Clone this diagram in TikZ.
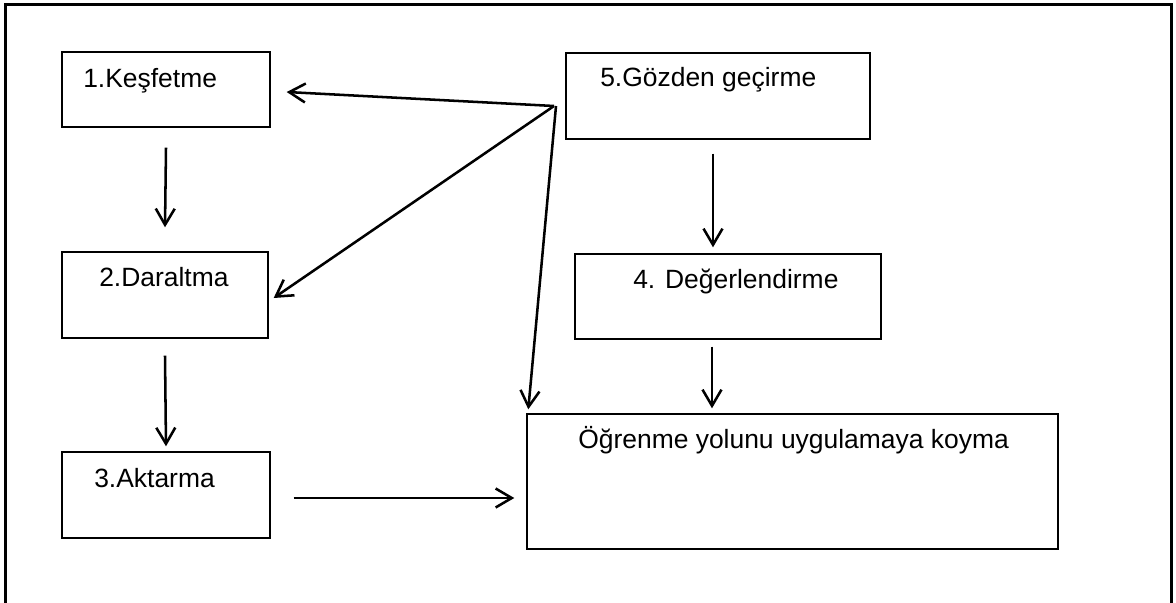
\documentclass[tikz,border=0pt]{standalone}
\usepackage{fontspec}
\setmainfont{Liberation Sans}
\usetikzlibrary{arrows.meta,fit,calc}

\begin{document}
\begin{tikzpicture}[x=0.025cm, y=-0.025cm,
    box/.style={draw, line width=1pt, inner sep=0pt},
    lbl/.style={anchor=base west, inner sep=0pt, font=\fontsize{18.8}{22}\selectfont},
    arr/.style={-{Straight Barb[length=11.5pt,width=13.5pt]}, line width=1.8pt}]
    \useasboundingbox (0,0) rectangle (1176,603);
    \draw[line width=2.2pt] (5.5,603) -- (5.5,4.5) -- (1171.5,4.5) -- (1171.5,603);

    \node[box, fit={(62,52) (270,127)}] (k1) {};
    \node[box, fit={(62,252) (268,338)}] (k2) {};
    \node[box, fit={(62,452) (270,538)}] (k3) {};
    \node[box, fit={(575,254) (881,339)}] (k4) {};
    \node[box, fit={(566,53) (870,139)}] (k5) {};
    \node[box, fit={(527,414) (1058,549)}] (uyg) {};

    \node[lbl] (t1) at (83,88) {1.Keşfetme};
    \node[lbl] (t2) at (99,287) {2.Daraltma};
    \node[lbl] (t3) at (94,487) {3.Aktarma};
    \node[lbl] (t4) at (633,289) {4. Değerlendirme};
    \node[lbl] (t5) at (600,87) {5.Gözden geçirme};
    \node[lbl] (tu) at (578,448) {Öğrenme yolunu uygulamaya koyma};

    \coordinate (j) at (554,106);
    \draw[arr] ($(k1.south)+(0,20)$) -- ($(k2.north)+(0,-24)$);
    \draw[arr] ($(k2.south)+(0,17)$) -- ($(k3.north)+(0,-5)$);
    \draw[arr] ($(k3.east)+(23,3)$) -- ($(k3.east -| uyg.west)+(-12,3)$);
    \draw[arr] ($(k5.south)+(-5,14)$) -- ($(k4.north)+(-15,-6)$);
    \draw[arr] ($(k4.south)+(-16,7)$) -- ($(k4.south |- uyg.north)+(-16,-5)$);
    \draw[arr] (j) -- ($(k1.east)+(16,2.5)$);
    \draw[arr] (j) -- ($(k2.east)+(5,3)$);
    \draw[arr] ($(j)+(2,0)$) -- ($(uyg.north west)+(2,-4)$);
\end{tikzpicture}
\end{document}
